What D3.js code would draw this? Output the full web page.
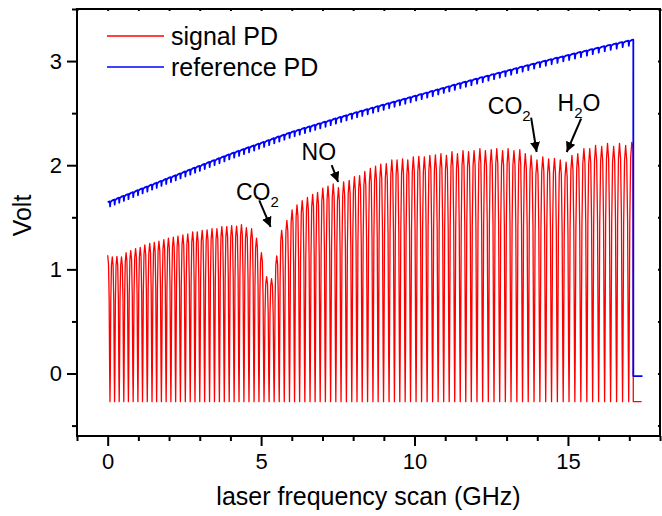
<!DOCTYPE html>
<html>
<head>
<meta charset="utf-8">
<script src="https://cdn.jsdelivr.net/npm/d3@7"></script>
<style>
  html, body { margin: 0; padding: 0; background: #fff; }
  svg { display: block; font-family: "Liberation Sans", Arial, sans-serif; }
</style>
</head>
<body>
<svg id="chart" width="662" height="516"></svg>
<script>
// Fringe peak positions of the etalon scan (GHz)
const fringeFreq = [
  0.00, 0.15, 0.30, 0.45, 0.60, 0.75, 0.91, 1.06, 1.21, 1.37,
  1.52, 1.67, 1.83, 1.98, 2.14, 2.29, 2.45, 2.61, 2.77, 2.92,
  3.08, 3.24, 3.40, 3.56, 3.72, 3.88, 4.04, 4.20, 4.36, 4.52,
  4.69, 4.85, 5.01, 5.18, 5.34, 5.51, 5.67, 5.84, 6.01, 6.17,
  6.34, 6.51, 6.68, 6.84, 7.01, 7.18, 7.35, 7.52, 7.69, 7.87,
  8.04, 8.21, 8.38, 8.56, 8.73, 8.90, 9.08, 9.26, 9.43, 9.61,
  9.78, 9.96, 10.14, 10.32, 10.50, 10.68, 10.86, 11.04, 11.22, 11.40,
  11.58, 11.76, 11.94, 12.13, 12.31, 12.50, 12.68, 12.87, 13.05, 13.24,
  13.43, 13.61, 13.80, 13.99, 14.18, 14.37, 14.56, 14.75, 14.94, 15.13,
  15.32, 15.52, 15.71, 15.90, 16.10, 16.29, 16.49, 16.68, 16.88, 17.08
];

// Signal photodiode: peak voltage of each fringe (V)
const signalPeaks = [
  1.135, 1.12, 1.125, 1.12, 1.16, 1.18, 1.20, 1.21, 1.235, 1.25,
  1.26, 1.27, 1.285, 1.30, 1.31, 1.32, 1.33, 1.34, 1.36, 1.36,
  1.375, 1.38, 1.39, 1.39, 1.41, 1.41, 1.42, 1.415, 1.43, 1.40,
  1.39, 1.30, 1.16, 0.93, 0.91, 1.13, 1.375, 1.47, 1.57, 1.62,
  1.66, 1.69, 1.72, 1.74, 1.78, 1.80, 1.82, 1.785, 1.84, 1.855,
  1.89, 1.90, 1.94, 1.97, 1.99, 2.01, 2.015, 2.05, 2.05, 2.06,
  2.05, 2.08, 2.085, 2.08, 2.095, 2.10, 2.11, 2.095, 2.13, 2.11,
  2.14, 2.13, 2.14, 2.16, 2.14, 2.15, 2.16, 2.14, 2.16, 2.14,
  2.15, 2.11, 2.095, 2.05, 2.08, 2.06, 2.065, 2.05, 2.03, 2.095,
  2.11, 2.16, 2.16, 2.19, 2.18, 2.21, 2.18, 2.21, 2.19, 2.22
];

// Reference photodiode level at each fringe (V)
const referenceLevels = [
  1.645, 1.663, 1.680, 1.698, 1.716, 1.733, 1.752, 1.770, 1.787, 1.806,
  1.824, 1.841, 1.860, 1.878, 1.896, 1.913, 1.932, 1.950, 1.969, 1.986,
  2.004, 2.023, 2.041, 2.059, 2.078, 2.096, 2.114, 2.131, 2.148, 2.165,
  2.182, 2.199, 2.216, 2.234, 2.251, 2.269, 2.285, 2.303, 2.321, 2.335,
  2.351, 2.366, 2.381, 2.396, 2.411, 2.426, 2.442, 2.457, 2.472, 2.488,
  2.503, 2.517, 2.531, 2.546, 2.560, 2.574, 2.589, 2.604, 2.618, 2.633,
  2.647, 2.662, 2.677, 2.691, 2.706, 2.721, 2.736, 2.751, 2.766, 2.781,
  2.796, 2.810, 2.825, 2.840, 2.854, 2.869, 2.883, 2.897, 2.911, 2.926,
  2.941, 2.955, 2.969, 2.984, 2.998, 3.012, 3.026, 3.039, 3.053, 3.067,
  3.081, 3.095, 3.109, 3.123, 3.137, 3.150, 3.163, 3.176, 3.190, 3.203
];

const signalFloor = -0.27;      // fringe minima of the signal PD (V)
const referenceRipple = 0.05;   // depth of the reference PD ripple (V)
const scanEnd = 17.13;          // end of the laser sweep (GHz)
const signalTail = { end: 17.40, level: -0.27 };
const referenceTail = { end: 17.43, level: -0.025 };

const xMajorTicks = [0, 5, 10, 15];
const yMajorTicks = [0, 1, 2, 3];

const seriesNames = ["signal PD", "reference PD"];

// Species labels with arrow tail/tip, in data units
const notes = [
  { main: "CO", sub: "2", after: "",  tx: 4.18,  ty: 1.67,  from: [4.94, 1.663], to: [5.31, 1.407] },
  { main: "NO", sub: "",  after: "",  tx: 6.32,  ty: 2.047, from: [7.30, 2.00],  to: [7.51, 1.839] },
  { main: "CO", sub: "2", after: "",  tx: 12.39, ty: 2.495, from: [13.80, 2.457], to: [13.98, 2.127] },
  { main: "H",  sub: "2", after: "O", tx: 14.66, ty: 2.52,  from: [15.43, 2.447], to: [14.96, 2.127] }
];

const svg = d3.select("#chart");
const margin = { left: 77, right: 2, top: 9, bottom: 80 };
const W = 662, H = 516;
const x = d3.scaleLinear().domain([-1, 18]).range([margin.left, W - margin.right]);
const y = d3.scaleLinear().domain([-0.6, 3.5]).range([H - margin.bottom, margin.top]);

const defs = svg.append("defs");
defs.append("clipPath").attr("id", "plotClip")
  .append("rect")
  .attr("x", x(-1)).attr("y", y(3.5))
  .attr("width", x(18) - x(-1)).attr("height", y(-0.6) - y(3.5));

// Signal trace: each fringe falls from its peak to the floor and back up
const signalPts = [];
for (let i = 0; i < fringeFreq.length - 1; i++) {
  const x0 = fringeFreq[i], x1 = fringeFreq[i + 1], s = x1 - x0;
  const p = signalPeaks[i], q = signalPeaks[i + 1], t = signalFloor;
  signalPts.push([x0, p]);
  signalPts.push([x0 + 0.18 * s, p - 0.06 * (p - t)]);
  signalPts.push([x0 + 0.32 * s, p - 0.30 * (p - t)]);
  signalPts.push([x0 + 0.43 * s, p - 0.80 * (p - t)]);
  signalPts.push([x0 + 0.50 * s, t]);
  signalPts.push([x0 + 0.57 * s, q - 0.80 * (q - t)]);
  signalPts.push([x0 + 0.68 * s, q - 0.30 * (q - t)]);
  signalPts.push([x0 + 0.82 * s, q - 0.06 * (q - t)]);
}
const lastI = fringeFreq.length - 1;
signalPts.push([fringeFreq[lastI], signalPeaks[lastI]]);
signalPts.push([scanEnd - 0.01, signalPeaks[lastI] - 0.05]);
signalPts.push([scanEnd, signalTail.level]);
signalPts.push([signalTail.end, signalTail.level]);

// Reference trace: slowly rising level with a short dip every fringe
const refPts = [];
for (let i = 0; i < fringeFreq.length - 1; i++) {
  const x0 = fringeFreq[i], x1 = fringeFreq[i + 1], s = x1 - x0;
  const a = referenceLevels[i], b = referenceLevels[i + 1];
  refPts.push([x0, a]);
  refPts.push([x0 + 0.46 * s, a + 0.46 * (b - a)]);
  refPts.push([x0 + 0.52 * s, a + 0.52 * (b - a) - referenceRipple]);
  refPts.push([x0 + 0.60 * s, a + 0.60 * (b - a) - 0.01]);
}
refPts.push([fringeFreq[lastI], referenceLevels[lastI]]);
refPts.push([scanEnd, referenceLevels[lastI] + 0.002]);
refPts.push([scanEnd, referenceTail.level]);
refPts.push([referenceTail.end, referenceTail.level]);

const line = d3.line().x(d => x(d[0])).y(d => y(d[1]));

const plot = svg.append("g").attr("clip-path", "url(#plotClip)");
plot.append("path").datum(signalPts)
  .attr("d", line).attr("fill", "none")
  .attr("stroke", "#ff0000").attr("stroke-width", 1.3).attr("stroke-linejoin", "round");
plot.append("path").datum(refPts)
  .attr("d", line).attr("fill", "none")
  .attr("stroke", "#0000ff").attr("stroke-width", 1.8).attr("stroke-linejoin", "round");

// Axes: ticks from d3 axes
const axisG = svg.append("g").attr("class", "axes");
const xMinor = d3.range(-1, 18.5, 1).filter(v => !xMajorTicks.includes(v));
const yMinor = d3.range(-0.5, 3.51, 0.5).filter(v => !yMajorTicks.includes(v));

axisG.append("g").attr("transform", `translate(0,${y(-0.6)})`)
  .call(d3.axisBottom(x).tickValues(xMajorTicks).tickSize(10).tickPadding(7).tickFormat(d3.format("d")));
axisG.append("g").attr("transform", `translate(0,${y(-0.6)})`)
  .call(d3.axisBottom(x).tickValues(xMinor).tickSize(5).tickFormat(""));

axisG.append("g").attr("transform", `translate(${x(-1)},0)`)
  .call(d3.axisLeft(y).tickValues(yMajorTicks).tickSize(10).tickPadding(5).tickFormat(d3.format("d")));
axisG.append("g").attr("transform", `translate(${x(-1)},0)`)
  .call(d3.axisLeft(y).tickValues(yMinor).tickSize(5).tickFormat(""));

axisG.append("g").attr("transform", `translate(0,${y(3.5)})`)
  .call(d3.axisBottom(x).tickValues(d3.range(-1, 18.5, 1)).tickSize(2).tickFormat(""));
axisG.append("g").attr("transform", `translate(${x(18)},0)`)
  .call(d3.axisLeft(y).tickValues(d3.range(-0.5, 3.51, 0.5)).tickSize(2).tickFormat(""));

axisG.selectAll(".domain").remove();
axisG.selectAll(".tick line").attr("stroke", "#000").attr("stroke-width", 2);
axisG.selectAll(".tick text").attr("font-size", 22).attr("fill", "#000")
  .attr("font-family", "'Liberation Sans', Arial, sans-serif");

// Plot frame as four solid bars
const x0p = x(-1), x1p = x(18), y0p = y(-0.6), y1p = y(3.5);
const frame = svg.append("g");
[[x0p - 1, y0p - 1, x1p - x0p + 2, 2],
 [x0p - 1, y1p - 1, x1p - x0p + 2, 2],
 [x0p - 1, y1p - 1, 2, y0p - y1p + 2],
 [x1p - 1, y1p - 1, 2, y0p - y1p + 2]].forEach(([rx, ry, rw, rh]) => {
  frame.append("rect").attr("x", rx).attr("y", ry).attr("width", rw).attr("height", rh)
    .attr("fill", "#000");
});

// Axis titles
svg.append("text")
  .attr("x", (x0p + x1p) / 2).attr("y", 505)
  .attr("text-anchor", "middle").attr("font-size", 25).text("laser frequency scan (GHz)");
svg.append("text")
  .attr("transform", `translate(31,${(y1p + y0p) / 2 - 7}) rotate(-90)`)
  .attr("text-anchor", "middle").attr("font-size", 25).text("Volt");

// Legend
const legendColors = ["#ff0000", "#0000ff"];
const legend = svg.append("g");
seriesNames.forEach((name, i) => {
  const ly = 36 + i * 31;
  legend.append("line").attr("x1", 107).attr("x2", 164).attr("y1", ly).attr("y2", ly)
    .attr("stroke", legendColors[i]).attr("stroke-width", 1.5);
  legend.append("text").attr("x", 171).attr("y", ly + 9).attr("font-size", 25).text(name);
});

// Species annotations with arrows
defs.append("marker").attr("id", "arrowHead")
  .attr("viewBox", "0 0 10 10").attr("refX", 10).attr("refY", 5)
  .attr("markerWidth", 5).attr("markerHeight", 5).attr("orient", "auto")
  .attr("markerUnits", "strokeWidth")
  .append("path").attr("d", "M0,0 L10,5 L0,10 z").attr("fill", "#000");

notes.forEach(n => {
  const t = svg.append("text").attr("x", x(n.tx)).attr("y", y(n.ty)).attr("font-size", 23);
  t.append("tspan").text(n.main);
  if (n.sub) t.append("tspan").attr("font-size", 15).attr("dy", 7).text(n.sub);
  if (n.after) t.append("tspan").attr("dy", -7).text(n.after);
  svg.append("line")
    .attr("x1", x(n.from[0])).attr("y1", y(n.from[1]))
    .attr("x2", x(n.to[0])).attr("y2", y(n.to[1]))
    .attr("stroke", "#000").attr("stroke-width", 2).attr("marker-end", "url(#arrowHead)");
});
</script>
</body>
</html>
